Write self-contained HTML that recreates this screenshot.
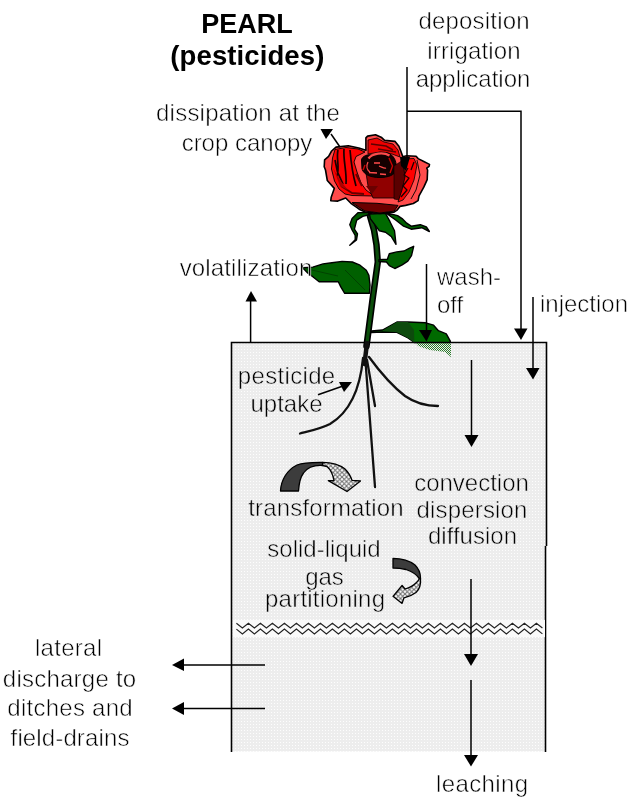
<!DOCTYPE html>
<html><head><meta charset="utf-8">
<style>
html,body{margin:0;padding:0;background:#fff;width:627px;height:810px;overflow:hidden}
svg{display:block;will-change:transform}
text{font-family:"Liberation Sans",sans-serif;font-size:24px;fill:#000;stroke:#fff;stroke-width:0.55px;paint-order:fill stroke}
text.g{stroke:#ebebeb}
.b{font-weight:bold;font-size:27.5px;fill:#000;stroke:none}
</style></head><body>
<svg width="627" height="810" viewBox="0 0 627 810">
<defs>
<pattern id="dots" patternUnits="userSpaceOnUse" width="3" height="3" x="1" y="1">
<rect width="3" height="3" fill="#ededed"/>
<rect width="1" height="1" fill="#fdfdfd"/>
</pattern>
<pattern id="hatch" patternUnits="userSpaceOnUse" width="4.5" height="4.5">
<rect width="4.5" height="4.5" fill="#fff"/>
<path d="M0 0L4.5 4.5M4.5 0L0 4.5" stroke="#707070" stroke-width="1.1"/>
</pattern>
<pattern id="gdots" patternUnits="userSpaceOnUse" width="2" height="2">
<rect width="1" height="1" fill="#2a7a2a"/><rect x="1" y="1" width="1" height="1" fill="#2a7a2a"/>
</pattern>
</defs>

<!-- soil box -->
<rect x="231" y="342.5" width="315" height="409" fill="url(#dots)"/>
<path d="M231.5 752V342.5H546.5V546" fill="none" stroke="#000" stroke-width="1.6"/>
<path d="M545.5 546V752" fill="none" stroke="#000" stroke-width="1.6"/>

<!-- wavy band -->
<rect x="233" y="620" width="312" height="17" fill="#fafafa"/>
<g id="zig" fill="none" stroke="#222" stroke-width="1.15">
<path d="M236.4 623.2 L242.4 628 L248.4 623.2 L254.4 628 L260.4 623.2 L266.4 628 L272.4 623.2 L278.4 628 L284.4 623.2 L290.4 628 L296.4 623.2 L302.4 628 L308.4 623.2 L314.4 628 L320.4 623.2 L326.4 628 L332.4 623.2 L338.4 628 L344.4 623.2 L350.4 628 L356.4 623.2 L362.4 628 L368.4 623.2 L374.4 628 L380.4 623.2 L386.4 628 L392.4 623.2 L398.4 628 L404.4 623.2 L410.4 628 L416.4 623.2 L422.4 628 L428.4 623.2 L434.4 628 L440.4 623.2 L446.4 628 L452.4 623.2 L458.4 628 L464.4 623.2 L470.4 628 L476.4 623.2 L482.4 628 L488.4 623.2 L494.4 628 L500.4 623.2 L506.4 628 L512.4 623.2 L518.4 628 L524.4 623.2 L530.4 628 L536.4 623.2 L542.4 628"/>
<path d="M236.4 629.1 L242.4 633.9 L248.4 629.1 L254.4 633.9 L260.4 629.1 L266.4 633.9 L272.4 629.1 L278.4 633.9 L284.4 629.1 L290.4 633.9 L296.4 629.1 L302.4 633.9 L308.4 629.1 L314.4 633.9 L320.4 629.1 L326.4 633.9 L332.4 629.1 L338.4 633.9 L344.4 629.1 L350.4 633.9 L356.4 629.1 L362.4 633.9 L368.4 629.1 L374.4 633.9 L380.4 629.1 L386.4 633.9 L392.4 629.1 L398.4 633.9 L404.4 629.1 L410.4 633.9 L416.4 629.1 L422.4 633.9 L428.4 629.1 L434.4 633.9 L440.4 629.1 L446.4 633.9 L452.4 629.1 L458.4 633.9 L464.4 629.1 L470.4 633.9 L476.4 629.1 L482.4 633.9 L488.4 629.1 L494.4 633.9 L500.4 629.1 L506.4 633.9 L512.4 629.1 L518.4 633.9 L524.4 629.1 L530.4 633.9 L536.4 629.1 L542.4 633.9"/>
</g>

<!-- titles -->
<text class="b" x="247" y="32.6" text-anchor="middle" textLength="91.5" lengthAdjust="spacingAndGlyphs">PEARL</text>
<text class="b" x="247.3" y="64.8" text-anchor="middle" textLength="154" lengthAdjust="spacing">(pesticides)</text>

<text x="474" y="29.2" text-anchor="middle" textLength="111.1" lengthAdjust="spacing">deposition</text>
<text x="474" y="59" text-anchor="middle" textLength="93.4" lengthAdjust="spacing">irrigation</text>
<text x="473" y="86.6" text-anchor="middle">application</text>

<text x="248" y="121" text-anchor="middle" textLength="183.9" lengthAdjust="spacing">dissipation at the</text>
<text x="247" y="150.6" text-anchor="middle">crop canopy</text>

<text x="437" y="285" >wash-</text>
<text x="437" y="313.2">off</text>
<text x="540" y="311.5">injection</text>

<text class="g" x="286.5" y="383.9" text-anchor="middle" textLength="97.4" lengthAdjust="spacing">pesticide</text>
<text class="g" x="286.5" y="412.4" text-anchor="middle">uptake</text>

<text class="g" x="326" y="515.8" text-anchor="middle" textLength="155.4" lengthAdjust="spacing">transformation</text>
<text class="g" x="471.5" y="491.1" text-anchor="middle">convection</text>
<text class="g" x="472" y="518.2" text-anchor="middle" textLength="110.8" lengthAdjust="spacing">dispersion</text>
<text class="g" x="472.5" y="543.7" text-anchor="middle">diffusion</text>

<text class="g" x="324" y="557.3" text-anchor="middle">solid-liquid</text>
<text class="g" x="324.5" y="584.5" text-anchor="middle">gas</text>
<text class="g" x="325" y="607" text-anchor="middle" textLength="120.0" lengthAdjust="spacing">partitioning</text>

<text x="68.5" y="656.3" text-anchor="middle" textLength="67.0" lengthAdjust="spacing">lateral</text>
<text x="69.5" y="686.7" text-anchor="middle" textLength="133.3" lengthAdjust="spacing">discharge to</text>
<text x="70" y="716.1" text-anchor="middle" textLength="125.4" lengthAdjust="spacing">ditches and</text>
<text x="70" y="746" text-anchor="middle" textLength="118.8" lengthAdjust="spacing">field-drains</text>

<text x="482" y="791.7" text-anchor="middle" textLength="92.0" lengthAdjust="spacing">leaching</text>

<!-- transformation arrow -->
<g stroke="#000" stroke-width="1.3" stroke-linejoin="round">
<path d="M280.5 491C281 480 287 470 297 465C303 462.5 312 462.3 322.6 462.4L322.6 465.5C314 465 307 468 303.5 473C300.5 477 299 483 298.5 491Z" fill="#3c3c3c"/>
<path d="M322.6 462.4C332 462.5 340 465 345 469C349 473 351 477 352 480.3L360.5 481L347 491.5L328.3 480.6L334 480.5C333 475 331 470 327 466.5L322.6 465.5Z" fill="url(#hatch)"/>
</g>
<!-- partitioning arrow -->
<g stroke="#000" stroke-width="1.3" stroke-linejoin="round">
<path d="M393 558.4C402 558.5 410 561 415 565C419 569 420.5 573 420.5 578L419.3 578.7C417 575 412 571.5 406 569.5C402 568.5 397 568 393 568Z" fill="#3c3c3c"/>
<path d="M420.5 578C421 584 420 589 416 592.5C412 595.5 408 597 404 597.8L402.1 603.4L393 596.3L402.1 585.5L405 589C410 587.5 414 585 416.5 582.5C418 581 419 580 419.3 578.7Z" fill="url(#hatch)"/>
</g>

<!-- plant: stem -->
<path d="M370 216L374 230L376.5 245L377.8 262L372.5 300L366.5 346" fill="none" stroke="#000" stroke-width="6.5" stroke-linecap="round"/>
<path d="M370 216L374 230L376.5 245L377.8 262L372.5 300L366.5 346" fill="none" stroke="#0b4d0b" stroke-width="3.2" stroke-linecap="round"/>

<!-- leaves -->
<g stroke="#000" stroke-width="1.4" stroke-linejoin="round">
<path d="M302.6 267.8L312.8 267.1L323 263.9L331.9 262.7L342.1 261.4L352.3 262L360 265.2L366.3 270.3L368.9 275.4L370 285L369.5 293.3L344.7 293.3L340.8 286.9L338.3 281.8L319.1 281.8L312.8 276.7L307.7 272.9Z" fill="#006000"/>
<path d="M379 259.8L387.4 259.3L389.3 253.7L396.7 251.9L404 251L409.6 248.1L413.7 246.3L411.5 255.6L407.8 261.1L402.2 264.8L394.8 268.5L389.3 265.7L386.5 262L379 261.5Z" fill="#006000"/>
<path d="M371.4 331L382.5 330L396.9 322L408 322L425.6 322.8L433.6 325.2L438.4 330.7L446.3 333.9L450.3 341.1L450.3 342.5L414.4 342.5L408 337.9L396.9 332.3L382.5 332L371.4 332.5Z" fill="#006a00"/>
<path d="M382.5 331L396.9 322L408 322L414 330L414.4 342.5L408 337.9L396.9 332.3Z" fill="#0d4a0d" stroke="none"/>
<!-- sepals -->
<path d="M368.8 212.6L358.2 212.6L352.1 218.6L349.8 224.7L352.1 230L355.2 235.3L355.2 239.8L349.8 245.2L356.5 240L357.5 234L354.4 229.2L356.7 220.2L362.7 216.4L368.8 214.8Z" fill="#005a00"/>
<path d="M369.5 214L385.5 213.3L390 221.7L394.5 230.8L396 244.4L391.5 236.8L385.5 232.3L379.4 230.8L374.8 224.7L370.3 218.6Z" fill="#006a00"/>
<path d="M385.5 212.6L397.6 215.6L402.1 218.6L406.7 223.2L411.2 226.2L420.3 224.7L426.4 227L429.4 231.5L421.8 227.7L411.2 229.2L403.6 226.2L396 220.2Z" fill="#006000"/>
</g>
<path d="M416 343H451V357L445 352L430 350L418 346Z" fill="url(#gdots)"/>
<path d="M303 268L338 276M345 270L365 290" stroke="#003a00" stroke-width="0.8" fill="none"/>

<!-- rose -->
<g stroke-linejoin="round">
<path d="M336 147.1L348.3 145.8L358.8 148L365.9 150.2L365.9 137.9L367.6 136.1L375.5 134.8L381.7 137.6L384.6 140.4L395.1 141.4L398.9 146.2L400.8 151L402.8 156.7L406.6 155.8L416.1 156.2L418.1 158.6L423.8 161.5L429.5 164.4L429.1 166.3L426.7 168.2L427.6 170L427.2 179.6L423.8 187.2L419 195.8L418.1 200.6L413.3 203.5L405.6 205.4L399.9 206.4L397 210.2L394.1 212.1L380 213.5L365 212L359.7 209.5L357.1 207.7L350.9 203.3L345.7 198L337.8 201.1L330.8 200.7L331.2 197.2L333.4 191L334.3 188.4L327.3 180.5L325.5 170L324.2 166.8L324.6 159.8L328.6 156.3L331.6 151Z" fill="#ff4b4b" stroke="#000" stroke-width="1.6"/>
<!-- left bright petal -->
<path d="M335 149.5L346 147.5L358 149L365 152L356 156.5L354 162L357 172L361 183L366 190L374 196L352 195.5L345 194L339 189L334.5 181L331.5 169L332.5 158Z" fill="#f00" stroke="#000" stroke-width="0.9"/>
<path d="M338 150C336 158 340 168 337 176M344 149C343 160 347 172 346 184M350 150C351 162 352 172 356 186M335 160L337.5 172L343 184" stroke="#1a0000" stroke-width="1.7" fill="none"/>
<path d="M341 186L352 193L364 194M356 174L362 186" stroke="#600" stroke-width="2" fill="none"/>
<path d="M333 168L340 180L348 190L340 186Z" fill="#b00000"/>
<!-- top petal -->
<path d="M368 140L377 138L384 142L393 144L398 150L400 157L392 154L380 152L368 154Z" fill="#ee0000" stroke="#000" stroke-width="0.8"/>
<path d="M371 144L386 146L393 150M378 149L396 152" stroke="#5a0000" stroke-width="1.5" fill="none"/>
<!-- lower center dark red -->
<path d="M366 173L395 169L399 198L373 198L368 186Z" fill="#900000" stroke="#000" stroke-width="0.8"/>
<path d="M366 186L378 186L372 194Z" fill="#6a0000"/>
<!-- center blob -->
<path d="M361.5 160C362 156 368 154 372 155C376 152 386 151 390 154C395 157 397 163 396 170C395 175 388 177.5 380 177.5C371 177.5 364 175 362 169Z" fill="#140000" stroke="#000" stroke-width="1"/>
<path d="M368.5 158.5C372 153.5 383 151.5 389.5 155.5" fill="none" stroke="#ff4b4b" stroke-width="2.2"/>
<path d="M368 162C366 166 367 170 370 172M374 163L380 163M379 166C382 167 384 169 386 168M369 172.5L377 173M380 174L386 174.5" fill="none" stroke="#ff4b4b" stroke-width="1.3"/>
<path d="M389 158L392.5 166L390 173M365 165L363 170" fill="none" stroke="#c00" stroke-width="1.4"/>
<!-- right petal -->
<path d="M394 166L403 160L405 178L402 192L399 200L394 199Z" fill="#5a0000" stroke="#000" stroke-width="0.6"/>
<path d="M403 159L414 158.5L417 165L414 180L409 192L403 200L398 202L402 190L405 177Z" fill="#f00" stroke="#000" stroke-width="0.8"/>
<path d="M408 168L404 175L409 178L403 186L407 190L401 197M414 162L411 170" stroke="#1a0000" stroke-width="1.3" fill="none"/>
<path d="M417 160L420 175L416 190L411 199" stroke="#000" stroke-width="0.9" fill="none"/>
<path d="M400 157L410 157L406 171L401 166Z" fill="#000"/>
<!-- bottom dark band -->
<path d="M352 202.5L377 203.3L398 205.4L394.1 211.1L380 213L365 211L359.7 207.7Z" fill="#6a0000" stroke="#000" stroke-width="1"/>
</g>

<text x="246" y="275.5" text-anchor="middle" textLength="132.6" lengthAdjust="spacing">volatilization</text>
<!-- lines & arrows -->
<g stroke="#000" stroke-width="1.5" fill="none">
<path d="M407 67V160"/>
<path d="M407 111.2H521V330"/>
<path d="M533 297V369"/>
<path d="M426.5 264V331"/>
<path d="M250.6 300V342"/>
<path d="M471.5 360V436"/>
<path d="M471 579V655"/>
<path d="M471 680V756"/>
<path d="M184 665H265"/>
<path d="M184 708.5H265"/>
<path d="M331 134L340 147"/>
<path d="M318 394.7L343 386"/>
</g>
<g fill="#000">
<path d="M245.5 301.5L257 301.5L251 291Z"/>
<path d="M514 328.5L527.5 328.5L521 340Z"/>
<path d="M526 368L539.5 368L533 379.5Z"/>
<path d="M419 330L432 330L426.5 341.5Z"/>
<path d="M464.5 435L478.5 435L471.5 447Z"/>
<path d="M464 654L478 654L471 666Z"/>
<path d="M464 755L478 755L471 766.5Z"/>
<path d="M172 665L184 658.5L184 671Z"/>
<path d="M172 708.5L184 702L184 715Z"/>
<path d="M320.5 129L333 129L326 139Z"/>
<path d="M352 382L339 382L344 392Z"/>
</g>

<!-- roots -->
<g stroke="#111" stroke-width="2.3" fill="none" stroke-linecap="round">
<path d="M367 343L364.5 364" stroke-width="4.5"/>
<path d="M363 358C360 390 350 412 330 424C320 429 310 431 300 433.5"/>
<path d="M365 355L375 487"/>
<path d="M367 360L375 406"/>
<path d="M369 357C380 372 392 386 405 396C415 403 428 406 438 406"/>
</g>

</svg>
</body></html>
